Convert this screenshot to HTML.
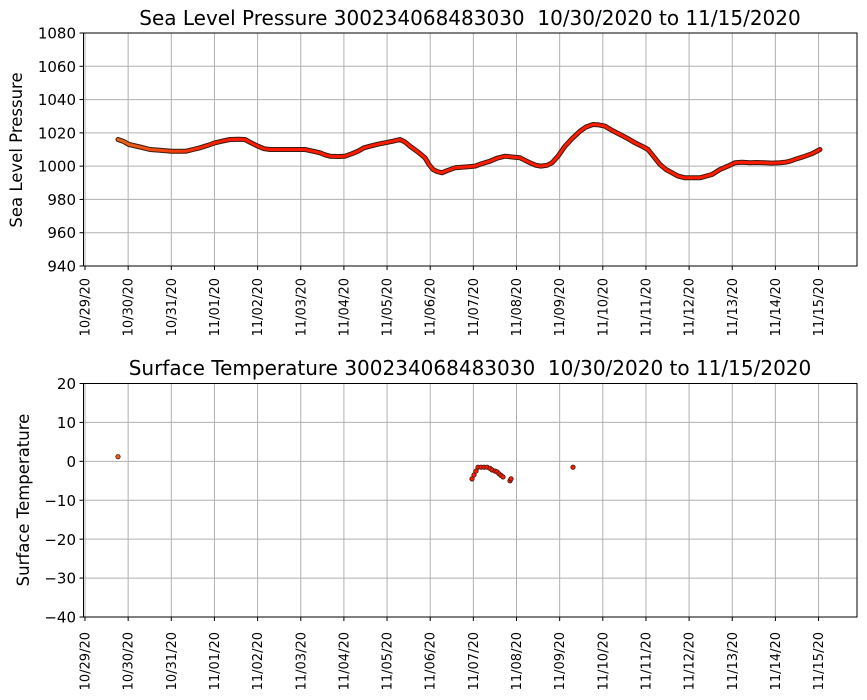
<!DOCTYPE html>
<html><head><meta charset="utf-8"><style>
html,body{margin:0;padding:0;background:#fff;}
svg{display:block;font-family:"DejaVu Sans","Liberation Sans",sans-serif;}
.t{font-size:15px;fill:#000}
.xl{font-size:13px;fill:#000;text-anchor:end}
</style></head><body>
<svg id="s" width="867" height="700" xmlns="http://www.w3.org/2000/svg">
<defs><linearGradient id="g" gradientUnits="userSpaceOnUse" x1="118" y1="0" x2="225" y2="0"><stop offset="0" stop-color="#e8641a"/><stop offset="1" stop-color="#ff1a00"/></linearGradient></defs>
<g id="grid"></g>
<text x="470" y="25" font-size="20" text-anchor="middle" xml:space="preserve">Sea Level Pressure 300234068483030  10/30/2020 to 11/15/2020</text>
<text x="470" y="375" font-size="20" text-anchor="middle" xml:space="preserve">Surface Temperature 300234068483030  10/30/2020 to 11/15/2020</text>
<text transform="translate(22,150) rotate(-90)" font-size="16.5" text-anchor="middle">Sea Level Pressure</text>
<text transform="translate(29,500) rotate(-90)" font-size="16.5" text-anchor="middle">Surface Temperature</text>
<g class="t" text-anchor="end">
<text x="76" y="38.5">1080</text><text x="76" y="71.8">1060</text><text x="76" y="105.1">1040</text><text x="76" y="138.4">1020</text><text x="76" y="171.6">1000</text><text x="76" y="204.9">980</text><text x="76" y="238.2">960</text><text x="76" y="271.5">940</text>
<text x="76" y="389">20</text><text x="76" y="428">10</text><text x="76" y="466.9">0</text><text x="76" y="505.8">−10</text><text x="76" y="544.8">−20</text><text x="76" y="583.7">−30</text><text x="76" y="622.7">−40</text>
</g>
<g id="xl1"></g><g id="xl2"></g>
<g id="data"></g>
</svg>
<script>
var ns="http://www.w3.org/2000/svg",s=document.getElementById('s');
function el(p,t,a){var e=document.createElementNS(ns,t);for(var k in a)e.setAttribute(k,a[k]);p.appendChild(e);return e;}
var G=document.getElementById('grid');
var labels=["10/29/20","10/30/20","10/31/20","11/01/20","11/02/20","11/03/20","11/04/20","11/05/20","11/06/20","11/07/20","11/08/20","11/09/20","11/10/20","11/11/20","11/12/20","11/13/20","11/14/20","11/15/20"];
function X(k){return 85+43.15*k;}
[[33,266,278],[383.5,617,632]].forEach(function(ax,i){
 var top=ax[0],bot=ax[1];
 for(var k=0;k<18;k++){var x=X(k);
  el(G,'line',{x1:x,x2:x,y1:top,y2:bot,stroke:'#b0b0b0','stroke-width':1});
  el(G,'line',{x1:x,x2:x,y1:bot,y2:bot+4,stroke:'#000','stroke-width':1});
  var t=el(document.getElementById(i?'xl2':'xl1'),'text',{class:'xl',transform:'translate('+(x+4.5)+','+ax[2]+') rotate(-90)'});t.textContent=labels[k];}
 for(var j=0;j<=(i?6:7);j++){var y=top+j*(bot-top)/(i?6:7);
  el(G,'line',{x1:83.5,x2:857,y1:y,y2:y,stroke:'#b0b0b0','stroke-width':1});
  el(G,'line',{x1:79.5,x2:83.5,y1:y,y2:y,stroke:'#000','stroke-width':1});}
 el(G,'rect',{x:83.5,y:top,width:773.5,height:bot-top,fill:'none',stroke:'#000','stroke-width':1});
});
var P=[[118,1016],[123,1015],[129,1013],[140,1011.5],[150,1010],[160,1009.5],[172,1009],[186,1009],[193,1010],[200,1011],[208,1012.5],[215,1014],[222,1015],[230,1016],[238,1016.2],[245,1016],[251,1014],[258,1012],[264,1010.5],[270,1010],[280,1010],[290,1010],[305,1010],[313,1009],[320,1008],[325,1006.8],[330,1006],[338,1005.8],[345,1006],[352,1007.5],[358,1009],[364,1011],[370,1012],[378,1013.2],[385,1014],[393,1015],[400,1016],[405,1014.5],[410,1012],[418,1008.5],[425,1005],[429,1001],[433,998],[437,996.8],[442,996],[448,997.5],[455,999],[465,999.5],[475,1000],[482,1001.5],[490,1003],[497,1004.8],[505,1006],[512,1005.5],[520,1005],[525,1003.5],[530,1002],[536,1000.5],[541,1000],[547,1000.5],[552,1002],[558,1006],[565,1012],[572,1016.5],[580,1021],[586,1023.5],[593,1025],[599,1024.8],[605,1024],[612,1021.5],[620,1019],[628,1016.5],[635,1014],[642,1012],[648,1010],[654,1005.5],[660,1001],[666,998],[672,996],[678,994],[685,993],[692,993],[700,993],[706,994],[712,995],[716,996.5],[720,998],[728,1000],[735,1002],[742,1002.3],[750,1002],[757,1002.2],[765,1002],[772,1001.8],[780,1002],[785,1002.3],[790,1003],[797,1004.5],[805,1006],[812,1007.5],[820,1010]];
var pts=P.map(function(p){return p[0]+','+(33+(1080-p[1])*233/140).toFixed(1);}).join(' ');
var D=document.getElementById('data');
el(D,'polyline',{points:pts,fill:'none',stroke:'#3a1a10','stroke-width':5,'stroke-linejoin':'round','stroke-linecap':'round'});
el(D,'polyline',{points:pts,fill:'none',stroke:'url(#g)','stroke-width':3,'stroke-linejoin':'round','stroke-linecap':'round'});
var T=[[118,1.2,'#e8641a'],[472,-4.5],[474,-3.5],[476,-2.5],[478,-1.5],[481,-1.5],[484,-1.5],[487,-1.5],[490,-1.8],[492,-2.2],[495,-2.5],[497,-2.7],[499,-3.2],[501,-3.6],[503,-4],[510,-5],[511,-4.5],[573,-1.5]];
T.forEach(function(p){el(D,'circle',{cx:p[0],cy:383.5+(20-p[1])*3.892,r:2.2,fill:p[2]||'#ff1a00',stroke:'#3a1a10','stroke-width':0.8});});
</script>
</body></html>
